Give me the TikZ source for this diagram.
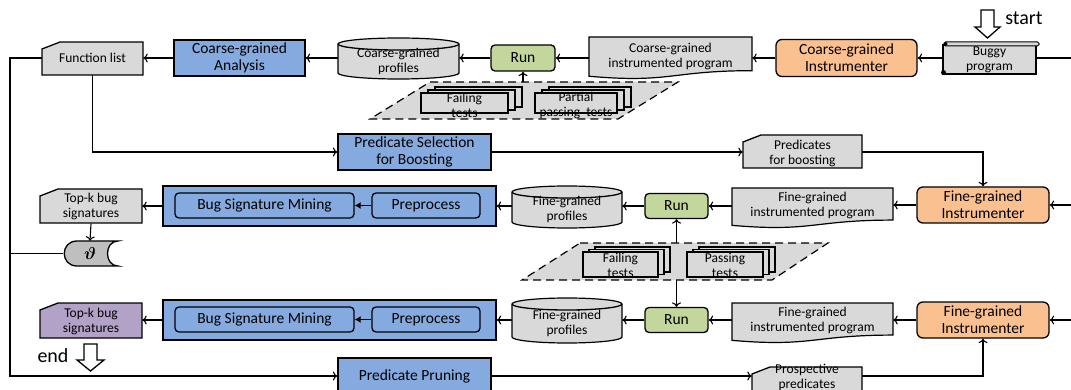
\documentclass[tikz,border=0pt]{standalone}
\usepackage{amsmath}
\usepackage{fontspec}
\setmainfont{Carlito}
\usetikzlibrary{arrows.meta,backgrounds,calc}
\definecolor{cblue}{HTML}{85AADF}
\definecolor{corange}{HTML}{FAC090}
\definecolor{cgreen}{HTML}{C3D69B}
\definecolor{cpurple}{HTML}{B3A2C7}
\definecolor{cgray}{HTML}{D9D9D9}
\definecolor{cdark}{HTML}{BFBFBF}
\newcommand\cylsh[4]{%
  \pgfmathsetmacro\myrx{(#3-#1)/2}%
  \filldraw[shp] (#1,#2+6) -- (#1,#4-6) arc[start angle=180,end angle=360,x radius=\myrx pt,y radius=6pt] -- (#3,#2+6) arc[start angle=0,end angle=180,x radius=\myrx pt,y radius=6pt] -- cycle;
  \draw[shpl] (#1,#2+6) arc[start angle=180,end angle=360,x radius=\myrx pt,y radius=6pt];}
\newcommand\docsh[4]{%
  \pgfmathsetmacro\mymx{(#1+#3)/2}%
  \filldraw[shp] (#1,#2) -- (#3,#2) -- (#3,#2+0.802*#4) .. controls (\mymx,#2+0.802*#4) and (\mymx,#2+1.107*#4) .. (#1,#2+0.934*#4) -- cycle;}
\newcommand\cardsh[5]{%
  \filldraw[shpl, fill=#1] (#2,#3+7) -- (#2+18,#3) -- (#4,#3) -- (#4,#5) -- (#2,#5) -- cycle;}
\newcommand\stacksh[6]{%
  \filldraw[shp] (#1+2*#5,#2-2*#6) rectangle (#3+2*#5,#4-2*#6);
  \filldraw[shp] (#1+#5,#2-#6) rectangle (#3+#5,#4-#6);
  \filldraw[shp] (#1,#2) rectangle (#3,#4);}
\tikzset{
  t13/.style={font=\fontsize{13.5}{15}\selectfont, align=center, inner sep=0pt},
  t15/.style={font=\fontsize{15.5}{17}\selectfont, align=center, inner sep=0pt},
  bx/.style={draw, line width=1.3pt},
  bluebox/.style={bx, fill=cblue, t15},
  runbox/.style={bx, fill=cgreen, rounded corners=4pt, t15, minimum width=63pt, minimum height=25pt},
  instr/.style={bx, fill=corange, rounded corners=6pt, t15},
  innerbox/.style={bx, fill=cblue, rounded corners=4pt, t15, minimum height=25pt},
  shp/.style={draw, fill=cgray, line width=1.2pt},
  shpl/.style={draw, line width=1.3pt},
  arr/.style={line width=1.1pt, -{To[length=4.5pt,width=9pt]}},
  ln/.style={line width=1.1pt},
  farr/.style={line width=1.1pt, -{Latex[length=6pt,width=7pt]}},
  dsh/.style={draw, fill=cgray, line width=1.2pt, dash pattern=on 8pt off 5pt},
  hollow/.style={draw, fill=white, line width=1.3pt},
  bigtxt/.style={font=\fontsize{20}{22}\selectfont, inner sep=0pt}
}
\begin{document}
\begin{tikzpicture}[x=1pt,y=-1pt]
\useasboundingbox (0,0) rectangle (1071,390);
\clip (0,0) rectangle (1071,390);
% ---------- row 1
\node[t13, minimum width=101pt, minimum height=33pt] (fl) at (92.5,58) {Function list};
\node[bluebox, minimum width=131pt, minimum height=36pt] (ca) at (239.5,58) {Coarse-grained\\Analysis};
\node[t13, minimum width=121pt] (cp) at (398.5,61) {Coarse-grained\\profiles};
\node[runbox, minimum width=64pt, minimum height=26pt] (run1) at (523,58) {Run};
\node[t13, minimum width=163pt] (cip) at (670.5,56) {Coarse-grained\\instrumented program};
\node[instr, minimum width=141pt, minimum height=37pt] (ci) at (846.5,58) {Coarse-grained\\Instrumenter};
\node[t13, minimum width=93pt] (bp) at (989.5,59.5) {Buggy\\program};
\node[bigtxt] (st) at (1024,18) {start};
\coordinate (r1) at (1071,58);
\coordinate (t1top) at (523,82);
\node[t13] (ft1) at (464.5,105) {Failing\\tests};
\node[t13] (pt1) at (576,105) {Partial\\passing~~tests};
% ---------- row 2
\node[bluebox, minimum width=153pt, minimum height=36pt] (psb) at (414.5,152) {Predicate Selection\\for Boosting};
\node[t13, minimum width=119pt] (pfb) at (802.5,153) {Predicates\\for boosting};
% ---------- row 3
\node[t13, minimum width=102pt, minimum height=34pt] (tk1) at (91,206.5) {Top-k bug\\signatures};
\node[bx, fill=cblue, minimum width=333pt, minimum height=40pt] (cont1) at (329.5,206) {};
\node[innerbox, minimum width=179pt] (bsm1) at (264.5,205.5) {Bug Signature Mining};
\node[innerbox, minimum width=108pt] (pre1) at (426,205.5) {Preprocess};
\node[t13, minimum width=110pt] (fprof1) at (567,209) {Fine-grained\\profiles};
\node[runbox] (run2) at (676.5,206) {Run};
\node[t13, minimum width=161pt] (fip1) at (812.5,205) {Fine-grained\\instrumented program};
\node[instr, minimum width=132pt, minimum height=36pt] (fi1) at (983,205) {Fine-grained\\Instrumenter};
\coordinate (r2) at (1071,205);
\node[inner sep=0pt, minimum width=54pt, minimum height=25pt, font=\fontsize{18}{20}\selectfont] (th) at (90,253.5) {$\boldsymbol{\vartheta}$};
% ---------- middle tests
\coordinate (t2top) at (676.5,243);
\coordinate (t2bot) at (676.5,280);
\node[t13] (ft2) at (620.5,265) {Failing\\tests};
\node[t13] (pt2) at (725,265) {Passing\\tests};
% ---------- row 5
\node[t13, minimum width=102pt, minimum height=35pt] (tk2) at (91,321) {Top-k bug\\signatures};
\node[bx, fill=cblue, minimum width=333pt, minimum height=40pt] (cont2) at (329.5,320) {};
\node[innerbox, minimum width=179pt] (bsm2) at (264.5,319.5) {Bug Signature Mining};
\node[innerbox, minimum width=108pt] (pre2) at (426,319.5) {Preprocess};
\node[t13, minimum width=110pt] (fprof2) at (567,323) {Fine-grained\\profiles};
\node[runbox] (run3) at (676.5,320) {Run};
\node[t13, minimum width=161pt] (fip2) at (812.5,320) {Fine-grained\\instrumented program};
\node[instr, minimum width=132pt, minimum height=36pt] (fi2) at (983,320) {Fine-grained\\Instrumenter};
\coordinate (r3) at (1071,320);
\node[bigtxt] (en) at (53,356) {end};
% ---------- row 6
\node[bluebox, minimum width=153pt, minimum height=36pt] (pp) at (414.5,376) {Predicate Pruning};
\node[t13, minimum width=110pt] (ppred) at (807,377.5) {Prospective\\predicates};
\coordinate (lvt) at (10,58);
\coordinate (lvb) at (10,376);
% ---------- shapes on background
\begin{scope}[on background layer]
\clip (0,0) rectangle (1071,390);
\cardsh{cgray}{42}{42}{143}{75}
\cylsh{338}{38}{459}{79}
\docsh{589}{37}{752}{42}
\filldraw[shp] (943,45) rectangle (1036,74);
\filldraw[shp, rounded corners=1.5pt, line width=1pt] (944,42) rectangle (1039,46);
\fill (945.5,44) circle (2pt);
\fill (943.5,72.5) circle (2.5pt);
\filldraw[dsh] (430,82) -- (678,82) -- (618,119) -- (370,119) -- cycle;
\stacksh{421}{93}{508}{113}{7}{3}
\stacksh{535}{93}{617}{113}{7}{3}
\cardsh{cgray}{743}{135}{862}{168}
\cardsh{cgray}{40}{189}{142}{223}
\cylsh{512}{186}{622}{228}
\docsh{732}{188}{893}{40}
\filldraw[draw, fill=cdark, line width=1.3pt] (118,241) -- (77,241) .. controls (60,241) and (60,266) .. (77,266) -- (118,266) .. controls (104,266) and (104,241) .. (118,241) -- cycle;
\filldraw[dsh] (580,243) -- (828,243) -- (772,280) -- (522,280) -- cycle;
\stacksh{583}{252}{658}{277}{6}{2.5}
\stacksh{687}{252}{763}{277}{6}{2.5}
\cardsh{cpurple}{40}{303}{142}{338}
\cylsh{512}{298}{622}{343}
\docsh{732}{303}{893}{40}
\cardsh{cgray}{752}{367}{862}{402}
\end{scope}
% ---------- hollow arrows
\draw[hollow] (981,10) -- (994,10) -- (994,27) -- (1000,27) -- (987.5,38) -- (975,27) -- (981,27) -- cycle;
\draw[hollow] (84,344) -- (97,344) -- (97,360) -- (104,360) -- (90.5,371) -- (77,360) -- (84,360) -- cycle;
% ---------- connectors row 1
\draw[ln] (bp.east |- ci.east) -- (r1);
\draw[arr] (bp.west |- ci.east) -- (ci.east);
\draw[arr] (ci.west) -- (ci.west -| cip.east);
\draw[arr] (cip.west |- run1.east) -- (run1.east);
\draw[arr] (run1.west) -- (run1.west -| cp.east);
\draw[arr] (cp.west |- ca.east) -- (ca.east);
\draw[arr] (ca.west) -- (fl.east);
\draw[arr] (t1top) -- (run1.south);
% ---------- row 2
\draw[arr] (fl.south) |- (psb.west);
\draw[arr] (psb.east) -- (psb.east -| pfb.west);
\draw[arr] (pfb.east |- psb.east) -| (fi1.north);
% ---------- row 3
\draw[arr] (r2) -- (fi1.east);
\draw[arr] (fi1.west) -- (fi1.west -| fip1.east);
\draw[arr] (fip1.west |- run2.east) -- (run2.east);
\draw[arr] (run2.west) -- (run2.west -| fprof1.east);
\draw[arr] (fprof1.west |- cont1.east) -- (cont1.east);
\draw[farr] (pre1.west) -- (bsm1.east);
\draw[arr] (cont1.west) -- (cont1.west -| tk1.east);
\draw[arr] (tk1.south) -- (th.north);
\draw[arr] (t2top) -- (run2.south);
\draw[arr] (t2bot) -- (run3.north);
% ---------- row 5
\draw[arr] (r3) -- (fi2.east);
\draw[arr] (fi2.west) -- (fi2.west -| fip2.east);
\draw[arr] (fip2.west |- run3.east) -- (run3.east);
\draw[arr] (run3.west) -- (run3.west -| fprof2.east);
\draw[arr] (fprof2.west |- cont2.east) -- (cont2.east);
\draw[farr] (pre2.west) -- (bsm2.east);
\draw[arr] (cont2.west) -- (cont2.west -| tk2.east);
% ---------- row 6 and left loop
\draw[arr] (fl.west) -- (lvt) -- (lvb) -- (pp.west);
\draw[ln] (th.west) -- (th.west -| lvt);
\draw[arr] (pp.east) -- (pp.east -| ppred.west);
\draw[arr] (ppred.east |- pp.east) -| (fi2.south);
\end{tikzpicture}
\end{document}
